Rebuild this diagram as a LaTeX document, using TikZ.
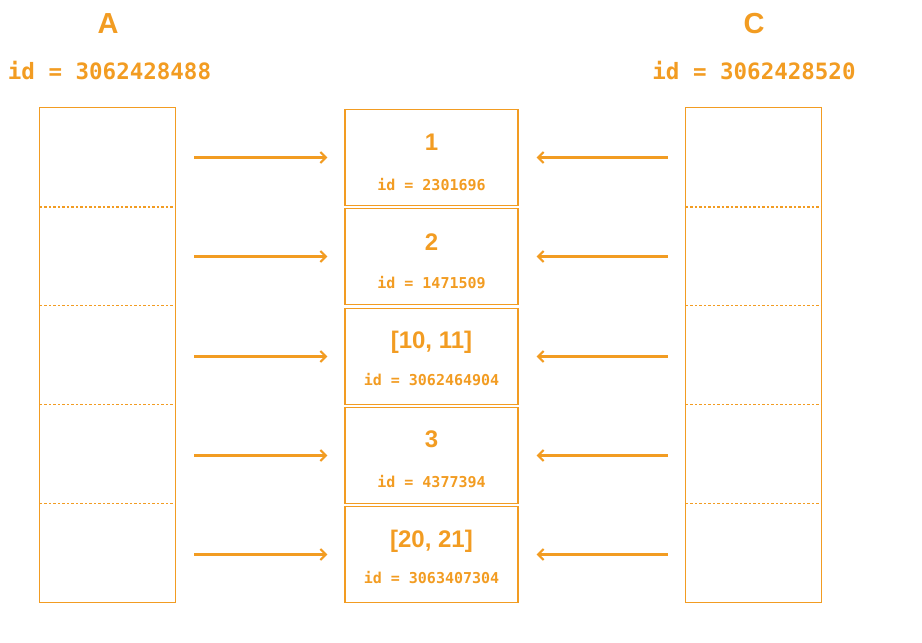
\documentclass[tikz,border=0pt]{standalone}
\usepackage{fontspec}
\setmainfont{Liberation Sans}
\setmonofont{DejaVu Sans Mono}
\usetikzlibrary{arrows.meta}
\definecolor{ptrorange}{RGB}{242,156,34}

\begin{document}
\begin{tikzpicture}[x=1pt,y=-1pt,
  cell/.style={minimum width=135pt,minimum height=98.8pt,inner sep=0pt},
  membox/.style={draw=ptrorange,line width=1.1pt,minimum width=173pt,minimum height=96pt,inner sep=0pt},
  title/.style={text=ptrorange,font=\fontsize{29}{29}\selectfont\bfseries},
  listid/.style={text=ptrorange,font=\fontsize{22.5}{22.5}\selectfont\ttfamily\bfseries},
  val/.style={text=ptrorange,font=\fontsize{24}{24}\selectfont\bfseries,anchor=base},
  addr/.style={text=ptrorange,font=\fontsize{15}{15}\selectfont\ttfamily\bfseries,anchor=base},
  sep/.style={draw=ptrorange,line width=1.1pt,dash pattern=on 2.5pt off 2pt},
  lptr/.style={draw=ptrorange,line width=2.1pt,-{Straight Barb[length=5.5pt,width=11pt]},shorten <=19pt,shorten >=17pt},
  rptr/.style={draw=ptrorange,line width=2.1pt,-{Straight Barb[length=5.5pt,width=11pt]},shorten <=18pt,shorten >=18pt}]
\useasboundingbox (0,0) rectangle (922,643);

% names and ids of the two lists
  \node[title]  (A)   at (108,23.5)  {A};
  \node[listid] (idA) at (109.5,71)  {id = 3062428488};
  \node[title]  (C)   at (754,23.5)  {C};
  \node[listid] (idC) at (754,71)    {id = 3062428520};

% slots of A
  \node[cell] (a1) at (107.5,157.4) {};
  \node[cell] (a2) at (107.5,256.2) {};
  \node[cell] (a3) at (107.5,355.0) {};
  \node[cell] (a4) at (107.5,453.8) {};
  \node[cell] (a5) at (107.5,552.6) {};
  \draw[ptrorange,line width=1.3pt] (a1.north west) rectangle (a5.south east);
  \draw[sep] (a1.south west) -- (a1.south east);
  \draw[sep] (a2.south west) -- (a2.south east);
  \draw[sep] (a3.south west) -- (a3.south east);
  \draw[sep] (a4.south west) -- (a4.south east);

% slots of C
  \node[cell] (c1) at (753.5,157.4) {};
  \node[cell] (c2) at (753.5,256.2) {};
  \node[cell] (c3) at (753.5,355.0) {};
  \node[cell] (c4) at (753.5,453.8) {};
  \node[cell] (c5) at (753.5,552.6) {};
  \draw[ptrorange,line width=1.3pt] (c1.north west) rectangle (c5.south east);
  \draw[sep] (c1.south west) -- (c1.south east);
  \draw[sep] (c2.south west) -- (c2.south east);
  \draw[sep] (c3.south west) -- (c3.south east);
  \draw[sep] (c4.south west) -- (c4.south east);

% shared objects
  \node[membox] (m1) at (431.5,157.5) {};
  \node[membox] (m2) at (431.5,256.5) {};
  \node[membox] (m3) at (431.5,356.5) {};
  \node[membox] (m4) at (431.5,455.5) {};
  \node[membox] (m5) at (431.5,554.5) {};
  \node[val]  (v1) at (431.5,150) {1};
  \node[addr] (i1) at (431.5,190) {id = 2301696};
  \node[val]  (v2) at (431.5,250) {2};
  \node[addr] (i2) at (431.5,288) {id = 1471509};
  \node[val]  (v3) at (431.5,348) {[10, 11]};
  \node[addr] (i3) at (431.5,385) {id = 3062464904};
  \node[val]  (v4) at (431.5,447) {3};
  \node[addr] (i4) at (431.5,487) {id = 4377394};
  \node[val]  (v5) at (431.5,547) {[20, 21]};
  \node[addr] (i5) at (431.5,583) {id = 3063407304};

% references
  \draw[lptr] (a1.east |- m1) -- (m1);
  \draw[lptr] (a2.east |- m2) -- (m2);
  \draw[lptr] (a3.east |- m3) -- (m3);
  \draw[lptr] (a4.east |- m4) -- (m4);
  \draw[lptr] (a5.east |- m5) -- (m5);
  \draw[rptr] (c1.west |- m1) -- (m1);
  \draw[rptr] (c2.west |- m2) -- (m2);
  \draw[rptr] (c3.west |- m3) -- (m3);
  \draw[rptr] (c4.west |- m4) -- (m4);
  \draw[rptr] (c5.west |- m5) -- (m5);
\end{tikzpicture}
\end{document}
